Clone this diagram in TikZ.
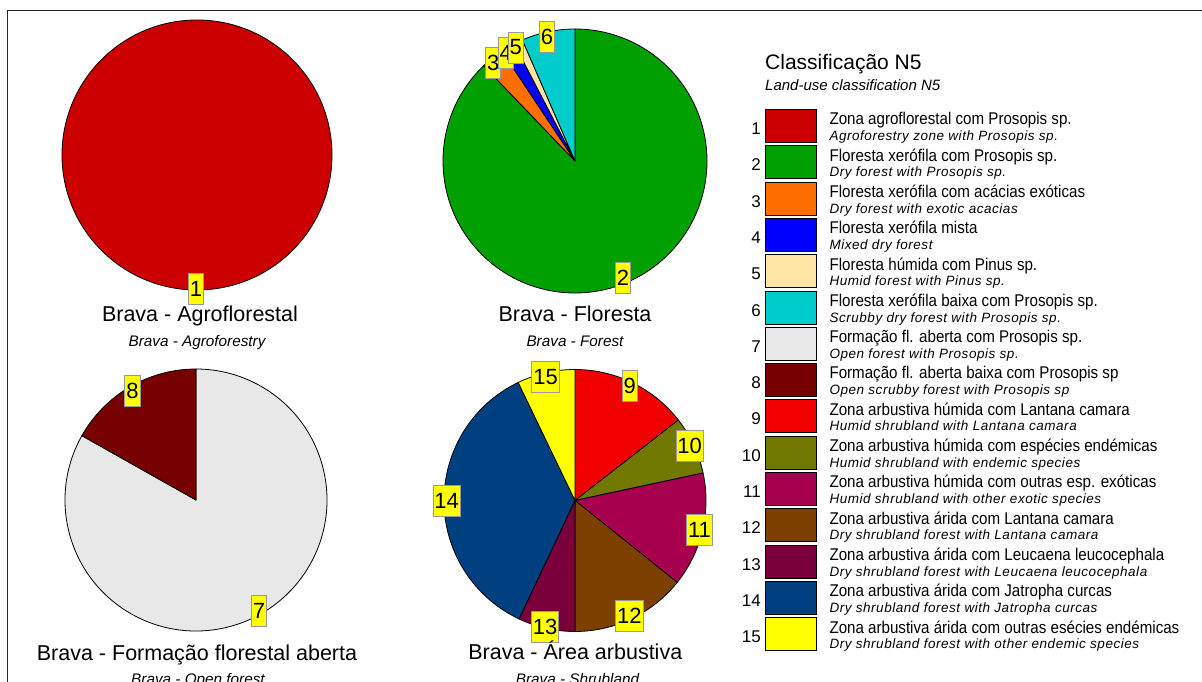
\documentclass[tikz,border=0pt]{standalone}
\usepackage{fontspec}
\setmainfont{Liberation Sans}
\newfontfamily\legmain[FakeStretch=0.89]{Liberation Sans}
\newfontfamily\legit[LetterSpace=4]{Liberation Sans}
\newcommand{\fs}[1]{\fontsize{#1}{#1}\selectfont}
\definecolor{c1}{HTML}{CC0000}
\definecolor{c2}{HTML}{00A000}
\definecolor{c3}{HTML}{FF6E00}
\definecolor{c4}{HTML}{0000FF}
\definecolor{c5}{HTML}{FFE6A6}
\definecolor{c6}{HTML}{00CCCC}
\definecolor{c7}{HTML}{E8E8E8}
\definecolor{c8}{HTML}{770000}
\definecolor{c9}{HTML}{F20000}
\definecolor{c10}{HTML}{707800}
\definecolor{c11}{HTML}{A6004F}
\definecolor{c12}{HTML}{7D4000}
\definecolor{c13}{HTML}{7A003C}
\definecolor{c14}{HTML}{004080}
\definecolor{c15}{HTML}{FFFF00}
\definecolor{lblfill}{HTML}{FFFF00}
\definecolor{lblborder}{HTML}{999999}
\newcommand{\myslice}[6]{%
  \begin{scope}[shift={(#1,#2)},yscale=-1]
    \filldraw[slice,fill=#6] (0,0) -- (#4:#3) arc[start angle=#4,end angle=#5,radius=#3] -- cycle;
  \end{scope}}
\newcommand{\legentry}[4]{%
  \pgfmathsetmacro{\ty}{109+(#1-1)*36.3}
  \node[swatch,fill=#2] (sw#1) at (765,\ty) {};
  \node[legnum] (n#1) at (761,\ty+25.5) {#1};
  \node[legtext] (t#1) at (829.3,\ty+15.8) {#3};
  \node[legsub] (s#1) at (829.3,\ty+31.5) {#4};}
\begin{document}
\begin{tikzpicture}[x=1pt,y=-1pt,
  slice/.style={draw=black,line width=0.8pt,line join=round},
  plabel/.style={fill=lblfill,draw=lblborder,line width=0.9pt,inner sep=1.5pt,minimum height=31pt,font=\fs{22}},
  ctitle/.style={anchor=base,inner sep=0pt,font=\fs{21.5}},
  csub/.style={anchor=base,inner sep=0pt,font=\fs{15.3}\itshape},
  swatch/.style={draw=black,line width=0.9pt,anchor=north west,minimum width=51pt,minimum height=33pt,inner sep=0pt},
  legnum/.style={anchor=base east,inner sep=0pt,font=\fs{17}},
  legtext/.style={anchor=base west,inner sep=0pt,font=\legmain\fs{17}},
  legsub/.style={anchor=base west,inner sep=0pt,font=\legit\fs{13.5}\itshape}]
\useasboundingbox (0,0) rectangle (1202,682);
\fill[white] (0,0) rectangle (1202,682);
% frame
\draw[black!85,line width=1.3pt] (7.8,690) -- (7.8,10.5) -- (1210,10.5);

% Pie 1
\filldraw[slice,fill=c1] (197,155) circle[radius=135];
\node[plabel] (l1) at (196,289) {1};
\node[ctitle] (tt1) at (200,321.5) {Brava - Agroflorestal};
\node[csub] (st1) at (197,346) {Brava - Agroforestry};

% Pie 2
\myslice{575}{161}{132}{133.8}{450}{c2}
\myslice{575}{161}{132}{123.6}{133.8}{c3}
\myslice{575}{161}{132}{117.4}{123.6}{c4}
\myslice{575}{161}{132}{113.5}{117.4}{c5}
\myslice{575}{161}{132}{90}{113.5}{c6}
\node[plabel] (l2) at (623,278) {2};
\node[plabel] (l3) at (493.3,62.5) {3};
\node[plabel] (l4) at (505.8,52.8) {4};
\node[plabel] (l5) at (515.8,47.5) {5};
\node[plabel] (l6) at (547,36.5) {6};
\node[ctitle] (tt2) at (575,321.5) {Brava - Floresta};
\node[csub] (st2) at (575,346) {Brava - Forest};

% Pie 3
\myslice{196}{500}{131}{150.6}{450}{c7}
\myslice{196}{500}{131}{90}{150.6}{c8}
\node[plabel] (l7) at (259,611) {7};
\node[plabel] (l8) at (132.5,391) {8};
\node[ctitle] (tt3) at (197,660) {Brava - Formação florestal aberta};
\node[csub] (st3) at (198,684.5) {Brava - Open forest};

% Pie 4
\myslice{575}{500.5}{131}{37.9}{90}{c9}
\myslice{575}{500.5}{131}{12.1}{37.9}{c10}
\myslice{575}{500.5}{131}{-38.7}{12.1}{c11}
\myslice{575}{500.5}{131}{-90}{-38.7}{c12}
\myslice{575}{500.5}{131}{-115.3}{-90}{c13}
\myslice{575}{500.5}{131}{115.7}{244.7}{c14}
\myslice{575}{500.5}{131}{90}{115.7}{c15}
\node[plabel] (l9) at (629.7,386) {9};
\node[plabel] (l10) at (689.7,446) {10};
\node[plabel] (l11) at (699.5,530) {11};
\node[plabel] (l12) at (629.3,616) {12};
\node[plabel] (l13) at (545,627) {13};
\node[plabel] (l14) at (446.7,501) {14};
\node[plabel] (l15) at (545.5,377) {15};
\node[ctitle] (tt4) at (575.3,659.3) {Brava - Área arbustiva};
\node[csub] (st4) at (577.5,684.5) {Brava - Shrubland};

% Legend
\node[anchor=base west,inner sep=0pt,font=\fs{21}] (legt) at (765,70) {Classificação N5};
\node[anchor=base west,inner sep=0pt,font=\fs{15}\itshape] (legs) at (765,91) {Land-use classification N5};
\legentry{1}{c1}{Zona agroflorestal com Prosopis sp.}{Agroforestry zone with Prosopis sp.}
\legentry{2}{c2}{Floresta xerófila com Prosopis sp.}{Dry forest with Prosopis sp.}
\legentry{3}{c3}{Floresta xerófila com acácias exóticas}{Dry forest with exotic acacias}
\legentry{4}{c4}{Floresta xerófila mista}{Mixed dry forest}
\legentry{5}{c5}{Floresta húmida com Pinus sp.}{Humid forest with Pinus sp.}
\legentry{6}{c6}{Floresta xerófila baixa com Prosopis sp.}{Scrubby dry forest with Prosopis sp.}
\legentry{7}{c7}{Formação fl. aberta com Prosopis sp.}{Open forest with Prosopis sp.}
\legentry{8}{c8}{Formação fl. aberta baixa com Prosopis sp}{Open scrubby forest with Prosopis sp}
\legentry{9}{c9}{Zona arbustiva húmida com Lantana camara}{Humid shrubland with Lantana camara}
\legentry{10}{c10}{Zona arbustiva húmida com espécies endémicas}{Humid shrubland with endemic species}
\legentry{11}{c11}{Zona arbustiva húmida com outras esp. exóticas}{Humid shrubland with other exotic species}
\legentry{12}{c12}{Zona arbustiva árida com Lantana camara}{Dry shrubland forest with Lantana camara}
\legentry{13}{c13}{Zona arbustiva árida com Leucaena leucocephala}{Dry shrubland forest with Leucaena leucocephala}
\legentry{14}{c14}{Zona arbustiva árida com Jatropha curcas}{Dry shrubland forest with Jatropha curcas}
\legentry{15}{c15}{Zona arbustiva árida com outras esécies endémicas}{Dry shrubland forest with other endemic species}
\end{tikzpicture}
\end{document}
